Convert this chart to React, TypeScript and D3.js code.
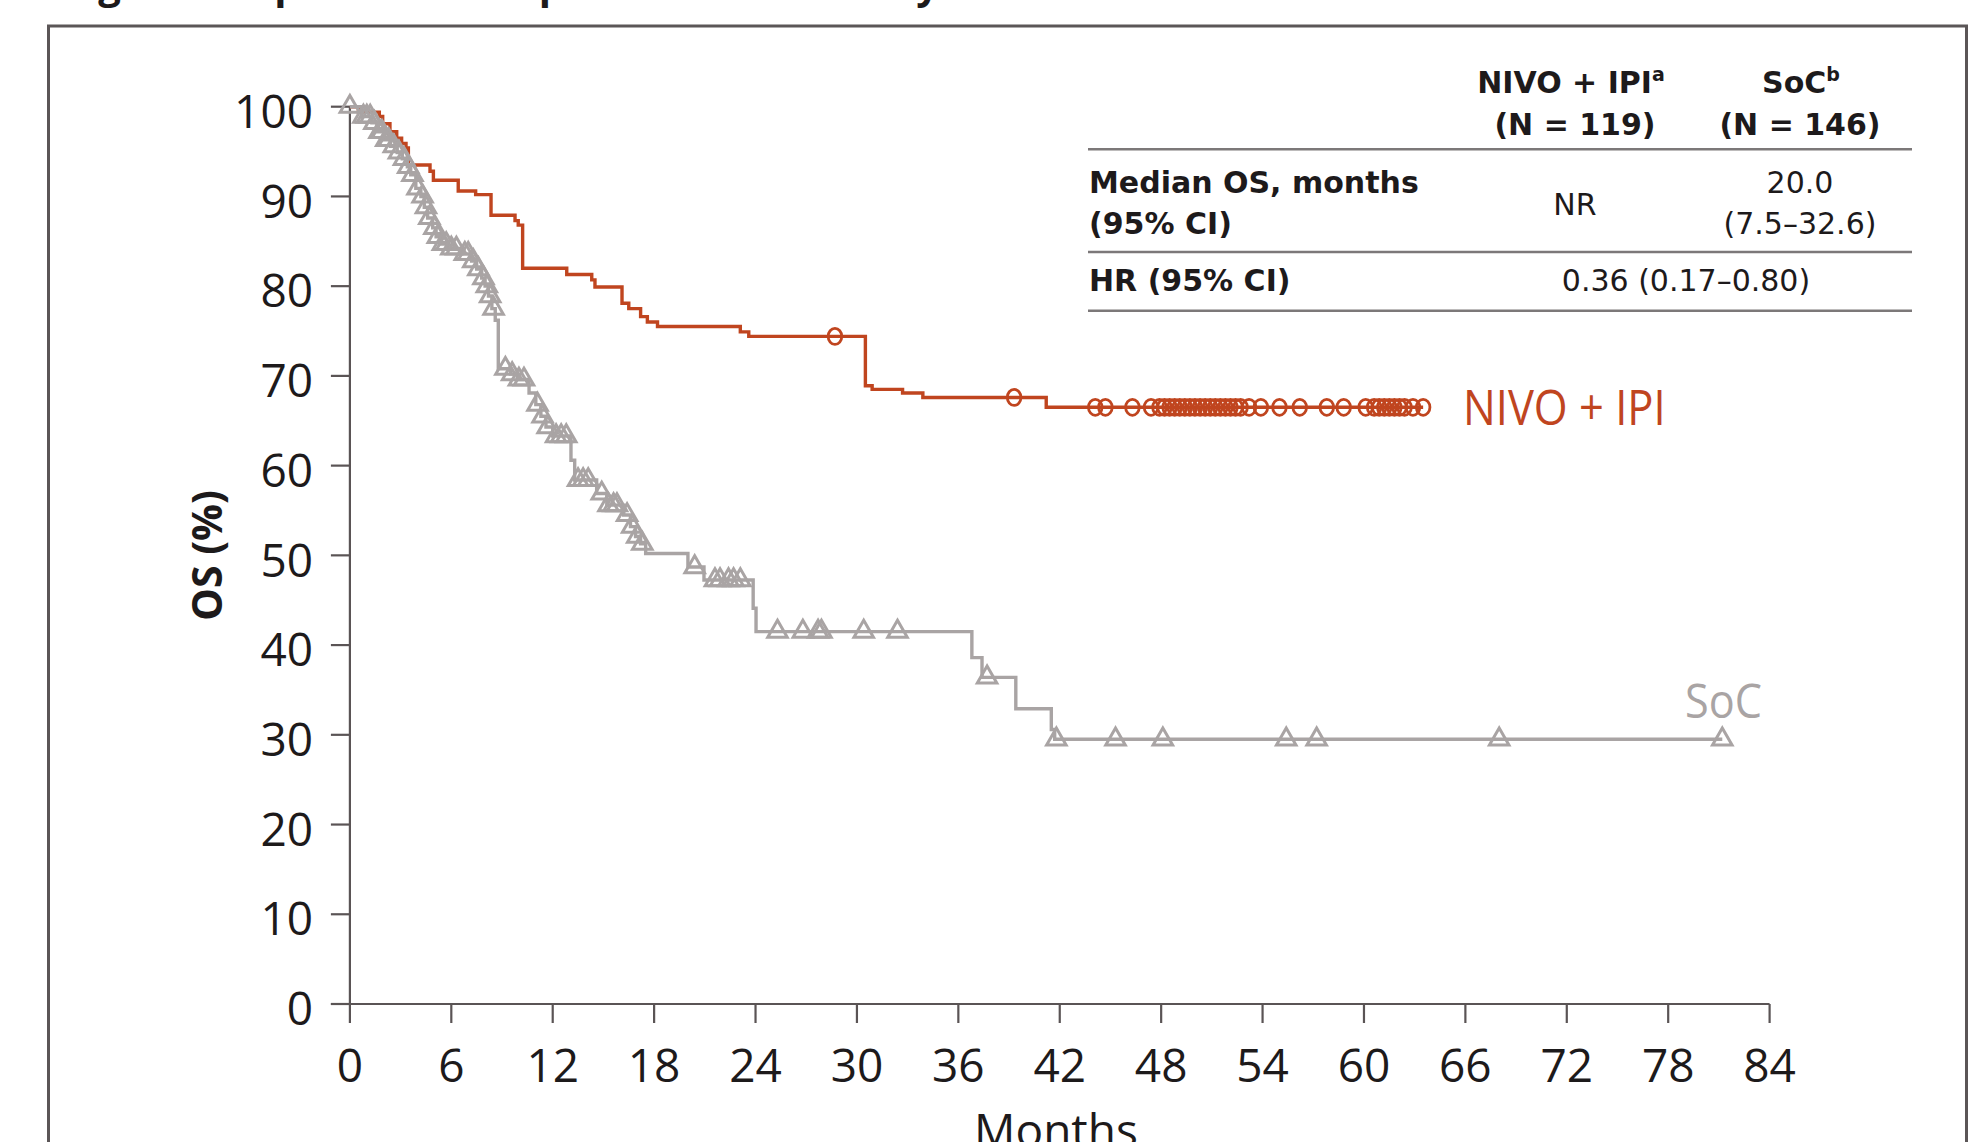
import React from "react";
import * as d3 from "d3";

// ---------- data ----------
const xTicks = [0, 6, 12, 18, 24, 30, 36, 42, 48, 54, 60, 66, 72, 78, 84];
const yTicks = [0, 10, 20, 30, 40, 50, 60, 70, 80, 90, 100];

// NIVO + IPI Kaplan-Meier steps: [month, OS %]
const nivoSteps: [number, number][] = [
  [0, 100], [0.5, 99.4], [1.74, 98.9], [1.94, 98.1], [2.37, 97.2], [2.77, 96.5],
  [3.06, 95.9], [3.32, 95.4], [3.46, 93.5], [4.74, 92.8], [4.94, 91.8], [6.41, 90.6],
  [7.44, 90.2], [8.35, 87.9], [9.77, 87.3], [9.96, 86.8], [10.22, 82.0], [12.83, 81.3],
  [14.31, 80.7], [14.5, 79.9], [16.1, 78.1], [16.5, 77.5], [17.2, 76.6], [17.6, 76.0],
  [18.2, 75.5], [23.1, 74.9], [23.6, 74.4], [30.5, 68.9], [30.9, 68.5], [32.7, 68.1],
  [33.9, 67.6], [41.2, 66.5],
];
const nivoEnd = 63.5;
const nivoCensor = [
  28.7, 39.3, 44.1, 44.7, 46.3, 47.4, 47.9, 48.2, 48.5, 48.8, 49.1, 49.4, 49.7, 50.0,
  50.3, 50.6, 50.9, 51.2, 51.5, 51.8, 52.1, 52.4, 52.7, 53.2, 53.9, 55.0, 56.2, 57.8,
  58.8, 60.1, 60.6, 60.9, 61.2, 61.5, 61.8, 62.1, 62.4, 62.9, 63.5,
];

// SoC Kaplan-Meier steps
const socSteps: [number, number][] = [
  [0, 100], [0.7, 98.9], [1.3, 98.2], [1.6, 97.2], [2.0, 96.3], [2.4, 95.6], [2.8, 94.9],
  [3.1, 94.2], [3.4, 93.3], [3.6, 92.4], [3.9, 90.9], [4.2, 90.0], [4.4, 88.8], [4.6, 87.6],
  [4.9, 86.5], [5.1, 85.5], [5.4, 84.7], [5.8, 84.2], [6.6, 83.6], [7.2, 82.8], [7.5, 81.9],
  [7.8, 80.9], [8.0, 80.0], [8.2, 78.9], [8.4, 77.5], [8.6, 76.2], [8.78, 70.8], [9.5, 70.2],
  [9.9, 69.6], [10.6, 68.1], [11.0, 66.8], [11.3, 65.5], [11.6, 64.3], [12.0, 63.3],
  [13.08, 60.6], [13.3, 58.4], [14.6, 56.9], [15.2, 55.6], [16.2, 54.5], [16.6, 53.2],
  [16.9, 52.1], [17.2, 51.3], [17.5, 50.2], [20.0, 48.7], [20.95, 47.25], [23.86, 44.1],
  [24.03, 41.5], [36.8, 38.6], [37.4, 36.4], [39.4, 32.9], [41.5, 30.6], [41.7, 29.5],
];
const socEnd = 81.2;
const socCensor = [
  0, 0.8, 1.0, 1.2, 1.45, 1.75, 1.9, 2.15, 2.3, 2.6, 2.9, 3.2, 3.45, 3.7, 4.0, 4.3, 4.5,
  4.7, 5.0, 5.2, 5.5, 5.7, 6.0, 6.3, 6.8, 7.0, 7.3, 7.6, 7.9, 8.1, 8.3, 8.5, 9.2, 9.6,
  10.0, 10.3, 11.1, 11.4, 11.7, 12.2, 12.5, 12.8, 13.5, 13.8, 14.1, 14.9, 15.3, 15.6,
  15.8, 16.4, 16.7, 17.0, 17.3, 20.4, 21.6, 21.9, 22.4, 22.7, 23.1, 25.3, 26.8, 27.7,
  27.9, 30.4, 32.4, 37.7, 41.8, 45.3, 48.1, 55.4, 57.2, 68.0, 81.2,
];

const tableHeader = ["NIVO + IPI", "SoC"];
const tableSup = ["a", "b"];
const tableN = ["(N = 119)", "(N = 146)"];
const medianLabel = ["Median OS, months", "(95% CI)"];
const medianNivo = "NR";
const medianSoc = ["20.0", "(7.5–32.6)"];
const hrLabel = "HR (95% CI)";
const hrValue = "0.36 (0.17–0.80)";
const titleText = "Figure 3. Updated OS in patients with BM by arm";

// ---------- styles ----------
const RED = "#c0451f";
const GRAY = "#a9a4a4";
const AXIS = "#5a5455";
const TEXT = "#1d1a1b";

function stepAt(steps: [number, number][], t: number) {
  let v = steps[0][1];
  for (const [ti, vi] of steps) if (ti <= t) v = vi;
  return v;
}

export default function App() {
  const W = 1972;
  const H = 1142;
  const x = d3.scaleLinear().domain([0, 84]).range([349.9, 1769.6]);
  const y = d3.scaleLinear().domain([0, 100]).range([1004, 106.7]);
  const line = d3
    .line<[number, number]>()
    .x((d) => x(d[0]))
    .y((d) => y(d[1]))
    .curve(d3.curveStepAfter);

  const nivoPts: [number, number][] = [...nivoSteps, [nivoEnd, nivoSteps[nivoSteps.length - 1][1]]];
  const socPts: [number, number][] = [...socSteps, [socEnd, socSteps[socSteps.length - 1][1]]];
  const tri = d3.symbol(d3.symbolTriangle, 165)() as string;

  const tickFont = "'Open Sans', 'DejaVu Sans', sans-serif";
  const tableFont = "'DejaVu Sans', 'Open Sans', sans-serif";

  const [x0, x1] = x.range();
  const [y0, y1] = y.range();

  return (
    <svg
      width={W}
      height={H}
      viewBox={`0 0 ${W} ${H}`}
      style={{ position: "absolute", left: 0, top: 0, background: "#fff" }}
    >
      <rect x={0} y={0} width={W} height={H} fill="#fff" />
      {/* title, cut off at the top edge as in the source */}
      <text x={64} y={-1} fontFamily={tickFont} fontWeight={700} fontSize={40} fill={TEXT}>
        {titleText}
      </text>
      {/* frame */}
      <rect x={48.5} y={26} width={1918} height={1200} fill="none" stroke="#5b5657" strokeWidth={3} />

      {/* y axis */}
      <line x1={x0} x2={x0} y1={y1} y2={y0} stroke={AXIS} strokeWidth={2.2} />
      {yTicks.map((t) => (
        <g key={"y" + t}>
          <line x1={x0 - 19} x2={x0} y1={y(t)} y2={y(t)} stroke={AXIS} strokeWidth={2.2} />
          <text
            x={313}
            y={y(t)}
            dy="0.46em"
            textAnchor="end"
            fontFamily={tickFont}
            fontSize={46}
            fill={TEXT}
          >
            {t}
          </text>
        </g>
      ))}
      {/* x axis */}
      <line x1={x0 - 19} x2={x1} y1={y0} y2={y0} stroke={AXIS} strokeWidth={2.2} />
      {xTicks.map((t) => (
        <g key={"x" + t}>
          <line x1={x(t)} x2={x(t)} y1={y0} y2={y0 + 19} stroke={AXIS} strokeWidth={2.2} />
          <text
            x={x(t)}
            y={1082}
            textAnchor="middle"
            fontFamily={tickFont}
            fontSize={46}
            fill={TEXT}
          >
            {t}
          </text>
        </g>
      ))}
      <text x={1056} y={1147} textAnchor="middle" fontFamily={tickFont} fontSize={46} fill={TEXT}>
        Months
      </text>
      <text
        transform={`translate(222, ${y(50)}) rotate(-90)`}
        textAnchor="middle"
        fontFamily={tickFont}
        fontWeight={700}
        fontSize={41}
        fill={TEXT}
      >
        OS (%)
      </text>

      {/* NIVO + IPI curve */}
      <path d={line(nivoPts) as string} fill="none" stroke={RED} strokeWidth={3.4} />
      {nivoCensor.map((t, i) => (
        <ellipse
          key={"nc" + i}
          cx={x(t)}
          cy={y(stepAt(nivoSteps, t))}
          rx={6.8}
          ry={8}
          fill="none"
          stroke={RED}
          strokeWidth={2.8}
        />
      ))}

      {/* SoC curve */}
      <path d={line(socPts) as string} fill="none" stroke={GRAY} strokeWidth={3.4} />
      {socCensor.map((t, i) => (
        <path
          key={"sc" + i}
          d={tri}
          transform={`translate(${x(t)}, ${y(stepAt(socSteps, t))})`}
          fill="none"
          stroke={GRAY}
          strokeWidth={3}
        />
      ))}

      {/* curve labels */}
      <g transform={`translate(1463, ${y(stepAt(nivoSteps, nivoEnd)) + 18}) scale(0.87, 1)`}>
        <text x={0} y={0} fontFamily={tickFont} fontSize={50} fill={RED}>
          NIVO + IPI
        </text>
      </g>
      <g transform={`translate(1762, 718) scale(0.9, 1)`}>
        <text x={0} y={0} textAnchor="end" fontFamily={tickFont} fontSize={48} fill={GRAY}>
          SoC
        </text>
      </g>

      {/* table */}
      <g fontFamily={tableFont} fontSize={30} fill={TEXT}>
        {tableHeader.map((h, i) => (
          <text key={"h" + i} x={i === 0 ? 1571 : 1801} y={93} textAnchor="middle" fontWeight={700}>
            {h}
            <tspan fontSize={19} dy={-12}>
              {tableSup[i]}
            </tspan>
          </text>
        ))}
        {tableN.map((n, i) => (
          <text key={"n" + i} x={i === 0 ? 1575 : 1800} y={135} textAnchor="middle" fontWeight={700}>
            {n}
          </text>
        ))}
        <line x1={1088} x2={1912} y1={149.3} y2={149.3} stroke="#7c7879" strokeWidth={2.5} />
        <text x={1089} y={193} fontWeight={700}>
          {medianLabel[0]}
        </text>
        <text x={1089} y={234} fontWeight={700}>
          {medianLabel[1]}
        </text>
        <text x={1575} y={215} textAnchor="middle">
          {medianNivo}
        </text>
        <text x={1800} y={193} textAnchor="middle">
          {medianSoc[0]}
        </text>
        <text x={1800} y={234} textAnchor="middle">
          {medianSoc[1]}
        </text>
        <line x1={1088} x2={1912} y1={252} y2={252} stroke="#7c7879" strokeWidth={2.5} />
        <text x={1089} y={291} fontWeight={700}>
          {hrLabel}
        </text>
        <text x={1686} y={291} textAnchor="middle">
          {hrValue}
        </text>
        <line x1={1088} x2={1912} y1={310.7} y2={310.7} stroke="#7c7879" strokeWidth={2.5} />
      </g>
    </svg>
  );
}
